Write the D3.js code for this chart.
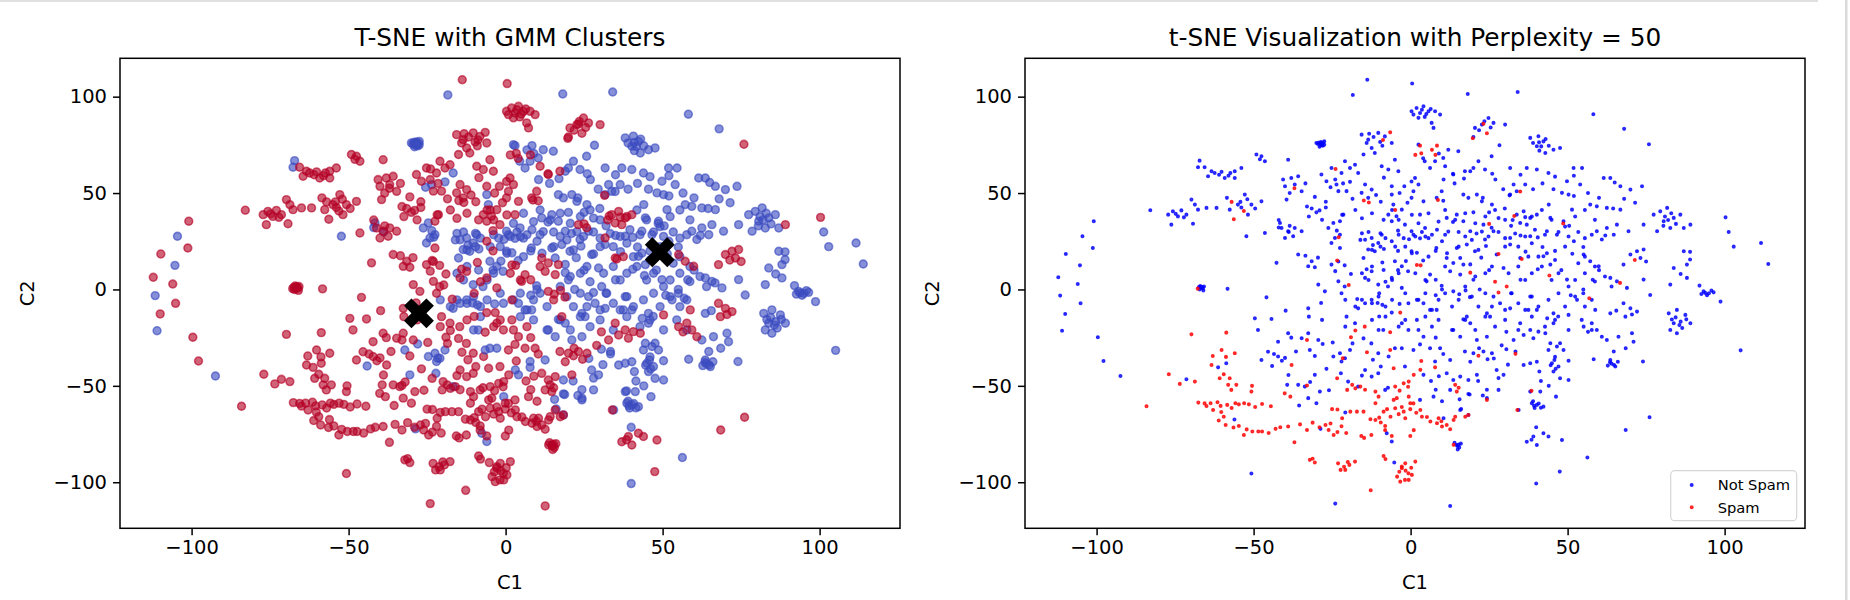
<!DOCTYPE html>
<html><head><meta charset="utf-8">
<script src="https://cdn.jsdelivr.net/npm/d3@7"></script>
<style>body{margin:0;background:#fff;} svg{display:block;font-family:"DejaVu Sans",sans-serif;}</style>
</head><body><svg id="chart" width="1850" height="600"></svg>
<script>
// t-SNE coordinates [C1, C2], grouped by GMM cluster and spam label
const gmmBlueNotSpam = [
[-104.5,27.6],[-105.3,12.5],[-111.6,-3.2],[-111,-21.4],[-92.4,-44.9],
[-18.4,100.9],[18.2,101.4],[34.1,102.4],[58.2,90.9],[68,83.3],
[101.3,29.8],[102.9,22.2],[111.6,24.1],[113.9,13.2],[105.1,-31.6],[56.3,-87.2],[40,-100.7],
[-29.5,75.5],[-28.5,76.5],[-27.5,75],[-29,74],[-28,74.5],[-30,76],[-27.5,76.8],[-28.8,75.8],[-28.2,75.2],[-29.2,76.2],[-28.6,74.8],[-27.9,76],
[2.5,75.1],[10.4,68.2],[15.2,71.7],[12,72.5],[9,70.5],[28.3,74.8],[25.8,69.1],
[38.1,78.6],[40.7,79.5],[42.3,76.8],[40.2,74.3],[42.9,70.8],[45.5,72.5],[47.6,73.4],[41,72],[39,76],[44,74.5],[40.9,76.3],[41.6,74.2],[43,78],
[31.7,63],[37,63],[40.2,62.2],[43.9,60.4],[46,58.5],[51.9,63],[54.6,63],[49.8,56.1],[54,54.4],[52,59],
[61.5,57.8],[63.6,57.8],[66.8,53.5],[70,51.8],[73.7,53.5],[65,55.5],
[20,63],[19,61.3],[23.7,62.2],[21.6,66.5],[21.1,49.2],[22.7,45.7],[25.9,44],[18.4,47.5],[16.8,49.2],[23,47.5],
[6.2,63],[7.8,66.5],[4.5,66.5],[32.8,54.4],[33.8,50.9],[36.5,54.4],[39,52],[31.7,49.2],
[48.2,50.1],[50.3,49.2],[52,48.5],[44,44],[51.4,41.4],[57.2,44],[59.3,43.1],[62.5,42.3],[66.8,41.4],[64.5,42],
[44.5,37.1],[48.7,35.4],[50.5,33],[43.4,30.2],[46.6,28.4],[38.1,27.6],[40.5,27],
[19,30.2],[21,29],[23.7,25.9],[26.4,30.2],[11.5,37.1],[14.7,38.8],[16.8,35.4],[13.5,35],[4.6,31.9],[0.9,28.4],[3,26.5],
[59.3,30.2],[62.5,31.9],[64.7,28.4],[60.9,25.9],[65.7,33.6],[69.4,30.2],[62,28],
[77.4,38.8],[79.5,40.5],[81.7,42.3],[80.6,35.4],[83.8,37.1],[85.9,38.8],[82.7,31.9],[87,31.9],[78.5,30.2],[74.2,33.6],[82,36],[84.5,34],[81,37.8],[83,39.5],[80.5,33],
[87,19.8],[89,19.5],[88,12.9],[83.8,11.1],[82.7,2.5],[86,8],[89,15.5],
[93.3,-1],[95,-2],[96.5,-1.5],[98.7,-6.3],[94.4,-3],[92,2],[88,6],[93.8,-1.8],[95.8,-0.6],[92.6,-2.4],
[63.6,6],[65.7,4.2],[68.9,0.8],[74.2,5.1],[76.3,-2.9],[49.8,5.1],[42.3,17.2],[44.5,12.9],[40.5,10.5],
[31.7,23.3],[27.4,18.1],[29.6,11.1],[25,10],[14.7,21.5],[17.9,23.3],[20.5,19.8],[22.5,16.5],[15.8,16.3],[19,13],[2,19],[4,15],
[10,25],[8,20],[25,40],[28,37],[30,42],[20,40],[12,30],[42,22],[46,20],[35,28],[32,33],[55,22],[52,25],[58,5],[60,10],[55,0],[48,10],[35,5],[32,-2],[20,5],[22,0],[10,0],[8,-3],
[-67.2,66.8],[-67.7,63.4],[-23.6,54.4],[-25.5,53],[-16.7,60.4],[-19.3,55.8],[-6,49.2],[-5.5,44],[0.3,30.2],[-0.5,26],[-41.6,34.5],[-52.3,27.6],
[-26.2,31.9],[-24.6,34.5],[-24.1,26.7],[-22.5,28.4],[-25.2,24.1],[-23.5,30.5],
[-14.5,25.8],[-12.4,26.7],[-10.3,24.1],[-13.5,20.7],[-11.4,19.8],[-9.2,28.4],[-8.5,21],[-15,16.3],[-12,23],
[-5,14.6],[-2.8,12],[-0.8,9.4],[-4,10],[-1.5,14.7],[0.3,19.8],[-10.3,2.5],[-7.2,1.5],
[-44.1,-39.7],[-28,-28.3],[-32.1,-31.4],[-24.6,-34.8],[-22.5,-33.1],[-20.9,-35.7],[-19.3,-31.4],[-22,-37.4],[-30.5,-44.3],[-22.2,-43.5],[-16.7,-50.4],
[-28.7,-72.3],[-7.6,-74.6],[-6,-78.9],[-5,-30.5],[-2.8,-30.5],[-8.7,-21],[-16.7,-9.8],[-14.5,-7.2],[-12.4,-5.4],[-10.5,-7],[-9,-8],[-0.7,-7.2],[-3.5,-7.5],
[40,-71.5],[38.1,-53],[41.3,-53],[38.6,-59],[40.2,-59.9],[42.3,-60.8],[39.5,-61.5],[34.4,-62.5],[46.3,-55.6],[28,-52.1],[24.3,-56.4],[23,-55],[24.3,-52],
[39.3,-60.3],[40.8,-59.2],[41.5,-61.4],[39,-58],
[18.4,-65.1],[16.1,-62],[18.4,-54.2],[15.6,-57],[4.1,-44.3],[7.8,-37.4],[12.6,-36.6],[18.4,-47],[18.8,-54.5],[27.4,-41.8],[29.6,-44.3],[28,-46],
[33.4,-32.2],[36,-39.2],[38.1,-38.3],[40.2,-37.5],[43.9,-31.4],[46.6,-29.6],[48.7,-31.4],[45,-38.3],[47.1,-40],[45.5,-42.6],[50.3,-37],[50.3,-47],[47.6,-46.1],[46,-35],[41,-42.6],[47.6,-27.9],[44.5,-27.9],
[44.6,-39.3],[46.2,-41.2],[45.8,-36.6],[31,-39],[21.5,-47.5],[26.5,-35.8],[30.5,-31],[41.5,-47.5],[44,-50],[68.5,-30.5],
[58.3,-36.2],[63.6,-36.6],[65.2,-40],[64,-38.5],[66,-37.5],[64.7,-32.2],[74,-37.4],[70.5,-22.7],[71,-27.1],[62.5,-26.2],[66.2,-24.5],[63.5,-37.8],[64.8,-39.2],[62.8,-39.5],
[82.2,-12.4],[84.8,-10.6],[87.5,-13.2],[83.8,-17.5],[86,-16.7],[82.7,-21],[89.1,-17.5],[84.8,-22.7],[86.5,-20],[84.4,-14.5],[85.6,-18.5],[83.2,-15.6],[87.8,-15.5],[63.6,-12.4],[65.5,-11],
[45.5,-12.4],[47,-14],[45.5,-17.5],[43.5,-15],[51,-3],[53,-5.4],[55,-2],[38.1,-3.7],[40.2,-10.6],[37.5,-10.6],
[26.4,-3.7],[28.5,-7.2],[31.7,-9.8],[25.3,-14.1],[13.6,-21],[15.8,-24.5],[19,-17.5],[16.8,-15.5],[21.1,-26.2],[24.3,-24.5],[24.3,-12.4],[6.2,-10.6],[8.3,-10.6],[4.1,-7.2],
[-42,32.1],[-38.8,29.8],[-15.5,29.1],[-13.4,29.8],[-9.6,29.1],[-8,26.6],[-3.8,28.4],[-2.2,26.6],[1.5,27.5],[3.6,29.8],[5.7,26.6],[6.8,28.4],[8.4,31],[11,28.4],[15.3,29.8],[17.4,27.5],[22.7,30],[24.8,27.5],[28,29.8],[30.1,26.6],[33.3,29],[36.5,27.5],[39.6,31],[42.8,28.4],[47.1,29.8],[50.3,27.5],[53.4,29.8],[55.5,26.6],[57.7,28.4],
[-16,25.7],[-12.3,20.5],[-9.6,22.2],[-4.9,22.2],[-1.7,22.2],[0.4,18.8],[4.7,27.4],[5.7,17],[8.2,21.5],[11.6,18.8],[15.3,22.2],[19.5,25.7],[21.6,20.5],[24,22.5],[30.1,22.2],[34.3,22.2],[36.6,19.6],[38.6,24],[40.7,17],[43.4,18.8],[46,15.3],[49.2,22.2],[51.5,18.5],[53.4,13.6],[55.5,17],[58.7,11.9],
[-15.5,8.4],[-13.4,4.9],[-12.3,11.9],[-8.6,10.1],[-5.9,4.9],[-3.8,8.4],[9.9,1.9],[17.4,1.5],[20.6,6.7],[23.8,8.4],[25.9,11.9],[31.2,8.4],[34.3,11.9],[36.5,4.9],[38.6,8.4],[41.8,11.9],[44.9,4.9],[47.1,8.4],[50.3,1.5],[52.4,4.9],[55.5,8.4],[58.7,4.1],[61.9,6.7],[64,1.5],
[-20.8,-5.4],[-17.6,-8.9],[-15.5,-5.4],[-12.3,-7.2],[-10.2,-3.7],[-8,-8.9],[-5.9,-5.4],[-1.7,-2],[2.5,-5.4],[4.7,-2],[6.8,-10.6],[8.9,-5.4],[11,-2],[13.2,-8.9],[19.5,-3.7],[21.6,-8.9],[23.8,-2],[25.9,-8.9],[30.1,-10.6],[32.2,-2],[34.3,-7.2],[36.5,-10.6],[38.6,-3.7],[40.7,-8.9],[43.9,-5.4],[47.1,-2],[49.2,-8.9],[52.4,-3.7],[55.5,-8.9],[57.7,-5.4],
[-10.2,-21],[-8,-14.1],[4.7,-14.1],[8.9,-15.8],[13.2,-21],[17.4,-15.8],[20.6,-21],[23.8,-14.1],[26.9,-19.3],[30.1,-15.8],[34.3,-21],[38.6,-14.1],[42.8,-19.3],[46,-15.8],[50.3,-21],[54.5,-15.8],[57.7,-21],
[2.5,34.3],[5.7,39.5],[8.9,35.2],[11,41.2],[14.2,36.1],[17.4,39.5],[20.6,34.3],[23.8,37.8],[26.9,41.2],[30.1,36.1],[41.8,41.2],[44.9,36.1],[49.2,32.6],[52.4,37.8],[55.5,41.2],[58.7,36.1],
[27,57],[29.5,52],[35,59.5],[42,55],[45.5,52],[56.5,50],[60,47.5],[68,47],[71.5,45],[14,55],[17,57.5],[26,60],[10.5,57]
];
const gmmRedNotSpam = [
[-112.2,6.3],[-109.8,18.4],[-100.9,35.4],[-101.2,21.5],[-106,2.8],[-105.1,-7.2],[-110,-12.7],[-99.6,-24.8],[-97.8,-37.1],[-82.9,41.1],
[-13.8,108.8],[0.5,106.8],[75.9,75.3],[100.3,37.4],[76.1,-66.3],[68.5,-72.9],[47.5,-94.5],[12.6,-112.3],[-24,-111.1],[-50.7,-95.5],[48.2,-78.1],
[-15.6,80.3],[-13.5,77.7],[-10.3,81.2],[-8.2,79.4],[-12.4,73.4],[-15,70],[-6,76],[-11.4,70.8],[-14,76],[-9,74.5],[-11.8,79.1],[-9.7,76.5],[-13.2,80.8],
[1.9,94.1],[4.1,95],[3,91.5],[5.7,92.4],[7.8,92.4],[9.4,90.7],[6.7,86.4],[7.3,83.8],[0.9,90.7],[2.5,89],[4.5,89.5],[0.3,92.4],[3.6,93.2],[5,91],[6.4,93.6],
[20.5,83.8],[22.7,85.5],[24.8,88.9],[26.4,86.4],[30.1,85.5],[20,79.1],[25.5,84],[23.5,87.2],[21.8,82.6],
[17.3,61.3],[13.5,60],[11,63.9],[13.6,59.6],[4,68],[1.4,57.8],[2.5,54.4],[0.9,50.9],[4.1,45.7],[3,38.8],[8.3,47.5],[9.9,50.9],[10.4,46],[31.5,48.8],
[33.8,38.8],[36,40.5],[38.1,37.1],[40.2,38.8],[34.9,34.5],[37,33.6],[32.5,36],[36.5,37.5],[38.6,37.8],[31.7,26.7],[34.9,16.3],[37.5,17],[23.2,33.6],[25.8,32],
[55.1,18.1],[57.2,14.6],[59.9,12],[70,18.1],[72.1,19.8],[74.2,20.7],[73.2,16.3],[67.8,12.9],[75,14.5],[89.1,33.6],
[11.5,16.3],[13.6,13.7],[16.8,12.9],[12.6,9.4],[15.8,7.7],[6.2,7.7],[5.1,4.2],[8,5],[1.5,8.4],[4.7,4.9],[11,11.9],[15.3,-5.4],
[-77.2,38.8],[-75.7,40.5],[-74.1,37.9],[-71.4,38.8],[-76.2,33.6],[-69.8,46.6],[-68.7,44],[-67.7,41.4],[-65,42.3],[-61.8,42.3],[-69.3,34.1],[-73,41],[-74.8,39.2],[-72.2,37.4],
[-65.6,63.4],[-63.4,61.3],[-64.5,58.7],[-62.4,60.4],[-59.2,57.8],[-56,61.3],[-53.9,63],[-56,57.8],[-58,59],[-61,59.5],[-60.2,61],[-57.4,60.4],
[-49.1,70],[-47.5,69.1],[-46.4,66.5],[-48,67.5],[-39,67.3],
[-40.6,57],[-38,57.8],[-35.8,58.7],[-40,53.5],[-36.9,54.4],[-34.7,50.9],[-38.5,50],[-39.5,46.6],[-33.5,55],
[-28.4,59.6],[-25.2,63],[-20.9,66.5],[-19.3,63],[-17.7,64.7],[-22,60.4],[-26.8,56.1],[-23,51],[-20.4,51],[-24,57],[-21.5,55],
[-14.5,54.4],[-15.6,50.1],[-12.4,51.8],[-13.5,47.5],[-11,49],[-9.2,63.9],[-7.1,62.2],[-5,67.3],[-3.9,61.3],[-8.5,58],
[-6,53.5],[-2,53.5],[0.3,56],[0.3,47.5],[-2.8,41.4],[-7.1,38.8],[-6,35.4],[-4.5,38],
[-55,44],[-52.8,49.2],[-50.7,44],[-53.9,42.5],[-51.8,38.8],[-57.6,41.4],[-47.5,45.7],[-49.5,42],[-58.5,47.5],[-54.2,45.4],[-52,46.8],[-46.4,29.3],
[-41.1,31.9],[-39,30.2],[-36.9,31.9],[-40,26.7],[-37.4,27.6],[-34.7,30.2],[-38.5,33],[-22.5,35.4],[-21.4,38.8],[-22.5,21.5],
[-31.5,42],[-29,41],[-27,42.5],[-33,43],[-30,40],[-30.5,48],[-27,45.5],[-18.5,47],[-9.5,45.5],[-1,45],[-3.5,50],
[-42,36],[-32.4,37.8],[-28.2,36.1],[-21.8,38.7],[-17.6,41.2],[-15.5,36.9],[-12.3,39.5],[-8.6,36.1],[-5.9,41.2],[-3.8,36.1],[0.4,38.7],
[-6,6],[-2.8,0.8],[-1.8,33.6],[-4,30.5],[-35.8,18.1],[-33.5,17.5],[-31.5,14.6],[-32.6,12],[-30.5,11.5],[-29.5,16.5],[-42.7,13.8],
[-25.2,12.9],[-23,14.5],[-21,12.5],[-24,9.5],[-12.4,9.4],[-14.5,6],[-29.4,2.5],[-27.3,-1],[-23,4.2],[-21,1.5],
[-66.6,1.1],[-67.2,0],[-66,-0.5],[-67,1.8],[-66.2,0.6],[-65.8,1.5],[-66.8,0.8],[-66.4,1.3],[-67.4,1.2],[-58.3,0.3],
[-14,10.5],[-10,-2],[-8,4],[-17,-5],[-19,8],[-4,20],[-6,25],[-9,14],
[-32.4,-14.1],[-28.2,-15.8],[-20.8,-19.3],[-12.3,-15.8],[-3.8,-19.3],[-1.7,-15.8],[2.5,-21],[6.8,-19.3],
[-71.4,-46.6],[-61.3,-40.4],[-58.7,-38.3],[-56.1,-67.5],[-49.6,-15],[-44.3,-15.3],[-39.8,-11],[-45.9,-4.1],[-48.6,-21],[-42.2,-27.1],[-39,-22.7],[-38,-25],
[-45.4,-32.3],[-47.5,-36.6],[-42.2,-34.8],[-41,-37],[-43.5,-33.5],[-40,-35.5],[-38.9,-44.4],[-34.7,-25.3],[-32.6,-22.7],[-29.4,-26.2],[-26.8,-41.2],
[-35.8,-49.5],[-33.7,-50.4],[-32,-48],[-32.6,-56.4],[-39.3,-49.5],[-28.9,-53],[-19.9,-47.8],[-20.8,-63.8],[-8.1,-52.1],[-7.2,-51],[-5.2,-89.8],
[-12.4,-45.2],[-10.3,-43.5],[-14.5,-41.8],[-12.5,-28],[-17.7,-17.5],[-10,-14],[-20.4,-14.1],[-32.6,-9.8],[-28.5,-7],[-22,-2],[-6,-12],[-2.8,-17.5],[-0.7,-21],[-1.8,-40],[-10.3,-33.1],[-7,-34.8],
[-26,-52.3],[-30,-59],[-35.5,-60.2],[-30.5,-34.5],[-36.5,-32.2],[-24.8,-27.5],[-18.5,-28],[-15,-25.4],[-12,-36.5],[-9.5,-40],[-15.5,-44.7],[6.5,-47.5],[9,-45],[8,-52],[10,-58],[19,-37.5],[24.5,-36.2],[29,-29],[30.5,-22],[8,-25],[3,-28.5],
[37,-79],[39.1,-76.3],[40.2,-80.7],[42.3,-74.6],[43.9,-76.3],[38.5,-78],[14.7,-80.7],[15.5,-82],[14,-79.5],[16,-80],[15,-83],[14.9,-81.2],[15.3,-80.4],[10.5,-66.8],[15.8,-62.5],
[11.5,-43.5],[13.6,-47],[12.6,-52.1],[15.8,-45.2],[17.3,-32.2],[20,-33.1],[23.2,-32.2],[25.9,-33.1],[21.8,-30.5],[21.1,-44.3],[3,-57.3],[7.3,-55.6],
[32.8,-26.2],[36,-23.6],[38.1,-21],[40.7,-21.9],[42.9,-22.7],[39.1,-25.3],[55.1,-19.3],[57.7,-17.5],[59.3,-21],[60.9,-24.5],[56.5,-22],
[58.8,-10.6],[67.8,-7.2],[70,-9.8],[72.1,-11.5],[68.4,-14.1],[70.5,-13],[34.9,-17.5],[50.3,-13.2],[2,-5.4],[13.6,-1],[15.5,-2.5],[17.5,-0.5],[18.9,-4],[17.9,-14.1],
[2,-15.8],[4.1,-24.5],[0.9,-31.4],[6.2,-30.5],[9.4,-30.5],[10.4,-33.5]
];
const gmmRedSpam = [
[-84.1,-60.6],[-12.7,-104.2],[-37,-79.3],[-6.5,81.5],[-8.8,77.5],[23.2,85.9],[24.3,81],[19.8,78.4],
[3.4,70.6],[1.5,69.8],[7.9,69.8],[8.7,46.4],[33,38.1],[35.4,15.8],[25,34],[71.4,15.3],[2,12.7],[3.2,12.5],
[-37,52.5],[-23.9,62.5],[-14.9,46.1],[-13.3,45.1],[-4.9,41.2],[-57,45.4],[-53.1,40.7],[-56.3,36.4],[-23.4,15],[-19.7,2.3],[-67.8,0.4],
[-77,-44],[-73.5,-49],[-68.7,-47.8],[-69.8,-23.3],[-58.7,-22.4],[-60.2,-31.4],[-56,-33.1],[-63.4,-39.2],[-60.8,-46.1],[-57.6,-46.1],[-58.1,-49.5],[-57.1,-52.1],[-50.5,-50],[-50.7,-53],
[-67.6,-58.7],[-65.6,-59.1],[-63.7,-59],[-62.9,-62.5],[-60.5,-60.4],[-58.4,-59.9],[-55.8,-59],[-54.7,-59.6],[-51.5,-59.6],[-47.3,-59.4],
[-61.1,-68],[-58.9,-70.3],[-59.5,-66],[-54.7,-70.8],[-53.1,-75.5],[-50.4,-73.7],[-48.5,-73.7],[-47.3,-73.7],
[-43,-72.3],[-39,-71.1],[-33,-72.9],[-31.2,-69.1],[-32.1,-88.4],[-30.5,-89.8],[-23.1,-90.2],[-20.8,-93.6],[-22.3,-93.6],[-17.7,-89.3],[-19.5,-91],
[-37.9,-39.2],[-33,-26.2],[-33,-49.8],[-40.1,-53.9],[-38.3,-55.6],[-23.4,-46.1],[-20.2,-52.1],[-17.6,-51.3],[-16,-50.4],
[-25,-62.1],[-23.3,-62.3],[-19.2,-63.4],[-17.1,-63.4],[-15,-63.4],[-21.8,-66.8],[-27.1,-70.3],[-26.1,-72.9],[-24.5,-75.5],[-25.5,-69.5],[-23.3,-74],
[-15.7,-76],[-14.8,-77],[-12.8,-67.3],[-11.2,-67.7],[-10,-66.5],[-8.1,-70.8],[-8.1,-73],[-10.2,-55.6],[-11.2,-59],[-11.2,-53],[-5.4,-57.3],[-4.4,-56.4],
[-8.6,-63.4],[-7.5,-62.1],[-4.9,-61.6],[-3.8,-64.7],[-2.2,-63.4],[-1.7,-66.8],[-0.1,-62.1],[-0.1,-59],[-6,-76],[-8.6,-86.4],[-8,-88],
[-2.8,-91.9],[-0.7,-95.4],[-1.8,-98.8],[-4.3,-97.1],[-2.8,-92.7],[-1.7,-90.2],[-0.6,-98.8],[0.4,-96.2],[1.5,-89.3],[-3.3,-99.7],
[-13.9,-32.6],[-14.6,-19.3],[-17.6,-21.3],[-19,-24.8],[-3.3,-12],[-6.5,-22.2],[-5.4,-40.9],[-4.9,-50.4],[-2.2,-48.7],[-0.6,-47.8],[1,-44.3],
[34,-62.5],[13.7,-80.6],[-0.1,-76],[1,-73],[3.1,-62.5],[3.6,-66],[6.3,-68.5],[8.4,-69.4],[10,-71.1],[11.5,-70.3],[8.9,-66.8],[13.7,-67.7],[14.2,-66],[17.4,-66],[18.4,-65.1],
[14.2,-49.5],[14.7,-53],[15.3,-51],[21.6,-34.4],[0.9,-59.1],[3.4,-37.1],
[-65,-60.5],[-61.5,-58.5],[-57,-61.5],[-53,-59],[-49.5,-61],[-60.3,-63.6],[-56.4,-71.6],[-52.2,-72.6],[-45.2,-74.5],[-44.5,-60.6],[-41.5,-71.5],[-35.2,-70],[-29,-71.5],[-22,-71],[-20.5,-74.5],
[-12.5,-75.5],[-9.5,-69],[-6.4,-66],[-2.8,-61],[1.8,-64],[5.2,-66.2],[9.8,-68.4],[12.6,-72.5],[-1.6,-94],[-3.6,-94.6],[0.2,-92.5],[-20,-89.5],[-21.2,-92],[-31.2,-87.8],
[-0.8,-50.5],[-3.5,-52.5],[-14.5,-52],[-18.6,-49.5],[-63,-34.5],[-58.8,-35],[-59.5,-44],[-55.5,-49.5]
];
const gmmBlueSpam = [
[3,74.6],[8.4,74.6],[6.8,72.4],[34.9,50.8],[48.6,34.2],[-22.9,27.1],[66.7,3.4],[44.2,7.2],[28,18.4],[19,8.7],[26.9,4],[28,-1.6],[30.6,1.5],
[-21.6,-35.7],[-0.6,-55.6],[-6.5,-31.4],[24.3,-57.3],[3.1,-41.7],[7.8,-40.4],[33.4,-33.4],[56.9,-4.6],[38.5,-52.6]
];
const gmmCentroids = [[-27.6,-12.4],[49.1,19.3]];
const xTicks = [-100,-50,0,50,100];
const yTicks = [-100,-50,0,50,100];
const titles = ["T-SNE with GMM Clusters","t-SNE Visualization with Perplexity = 50"];
const legendLabels = ["Not Spam","Spam"];

const svg = d3.select("#chart");
const W = 780, H = 470, TOP = 58.3;
const lefts = [120, 1025];
const xDomain = [-122.8, 125.6], yDomain = [-123.9, 119.9];
const fmt = d => d < 0 ? "\u2212" + Math.abs(d) : String(d);

svg.append("rect").attr("x",0).attr("y",0).attr("width",1818).attr("height",2).attr("fill","#e0e0e0");
svg.append("rect").attr("x",1845).attr("y",0).attr("width",2.5).attr("height",600).attr("fill","#dadada");

function makePanel(i){
  const L = lefts[i];
  const x = d3.scaleLinear().domain(xDomain).range([L, L+W]);
  const y = d3.scaleLinear().domain(yDomain).range([TOP+H, TOP]);
  const g = svg.append("g");
  const ax = g.append("g").attr("transform",`translate(0,${TOP+H})`)
    .call(d3.axisBottom(x).tickValues(xTicks).tickSize(7).tickPadding(5).tickFormat(fmt));
  const ay = g.append("g").attr("transform",`translate(${L},0)`)
    .call(d3.axisLeft(y).tickValues(yTicks).tickSize(7).tickPadding(6).tickFormat(fmt));
  [ax,ay].forEach(a=>{
    a.select(".domain").remove();
    a.selectAll("line").attr("stroke","#000").attr("stroke-width",1.5);
    a.selectAll("text").attr("font-size","19.5px").attr("fill","#000").attr("font-family","DejaVu Sans");
  });
  g.append("text").attr("x",L+W/2).attr("y",46).attr("text-anchor","middle")
    .attr("font-size","24.8px").attr("fill","#000").text(titles[i]);
  g.append("text").attr("x",L+W/2).attr("y",589).attr("text-anchor","middle")
    .attr("font-size","19.5px").attr("fill","#000").text("C1");
  g.append("text").attr("transform",`translate(${L-86},${TOP+H/2}) rotate(-90)`).attr("text-anchor","middle")
    .attr("font-size","19.5px").attr("fill","#000").text("C2");
  return {g,x,y,L};
}

// Panel 1: GMM clusters
const p1 = makePanel(0);
const blue1 = "#3b4cc0", red1 = "#b40426";
const gmmPts = [].concat(
  gmmBlueNotSpam.map(d=>({d,c:blue1})),
  gmmRedNotSpam.map(d=>({d,c:red1})),
  gmmBlueSpam.map(d=>({d,c:blue1})),
  gmmRedSpam.map(d=>({d,c:red1}))
);
p1.g.append("g").selectAll("circle").data(gmmPts).join("circle")
  .attr("cx",p=>p1.x(p.d[0])).attr("cy",p=>p1.y(p.d[1])).attr("r",3.9)
  .attr("fill",p=>p.c).attr("fill-opacity",0.62)
  .attr("stroke",p=>p.c).attr("stroke-opacity",0.62).attr("stroke-width",1.6);
p1.g.append("g").selectAll("path").data(gmmCentroids).join("path")
  .attr("d", d3.symbol(d3.symbolCross, 560)())
  .attr("transform", d=>`translate(${p1.x(d[0])},${p1.y(d[1])}) rotate(45)`)
  .attr("fill","#000");
p1.g.append("rect").attr("x",p1.L).attr("y",TOP).attr("width",W).attr("height",H)
  .attr("fill","none").attr("stroke","#000").attr("stroke-width",1.5);

// Panel 2: spam labels
const p2 = makePanel(1);
const notSpam = gmmBlueNotSpam.concat(gmmRedNotSpam);
const spam = gmmRedSpam.concat(gmmBlueSpam);
[[notSpam,"#0000ff"],[spam,"#ff0000"]].forEach(([arr,col])=>{
  p2.g.append("g").selectAll("circle").data(arr).join("circle")
    .attr("cx",d=>p2.x(d[0])).attr("cy",d=>p2.y(d[1])).attr("r",1.4)
    .attr("fill",col).attr("fill-opacity",0.75)
    .attr("stroke",col).attr("stroke-opacity",0.75).attr("stroke-width",1.3);
});
p2.g.append("rect").attr("x",p2.L).attr("y",TOP).attr("width",W).attr("height",H)
  .attr("fill","none").attr("stroke","#000").attr("stroke-width",1.5);

// Legend
const lg = p2.g.append("g");
lg.append("rect").attr("x",1670.7).attr("y",470.7).attr("width",126).attr("height",50).attr("rx",4)
  .attr("fill","#fff").attr("fill-opacity",0.8).attr("stroke","#d5d5d5").attr("stroke-width",1.2);
[["#0000ff",485],["#ff0000",507.3]].forEach(([c,yy],k)=>{
  lg.append("circle").attr("cx",1691.7).attr("cy",yy).attr("r",1.4).attr("fill",c).attr("fill-opacity",0.75)
    .attr("stroke",c).attr("stroke-opacity",0.75).attr("stroke-width",1.3);
  lg.append("text").attr("x",1717.7).attr("y",yy+5.2).attr("font-size","14.7px").attr("fill","#000").text(legendLabels[k]);
});
</script></body></html>
